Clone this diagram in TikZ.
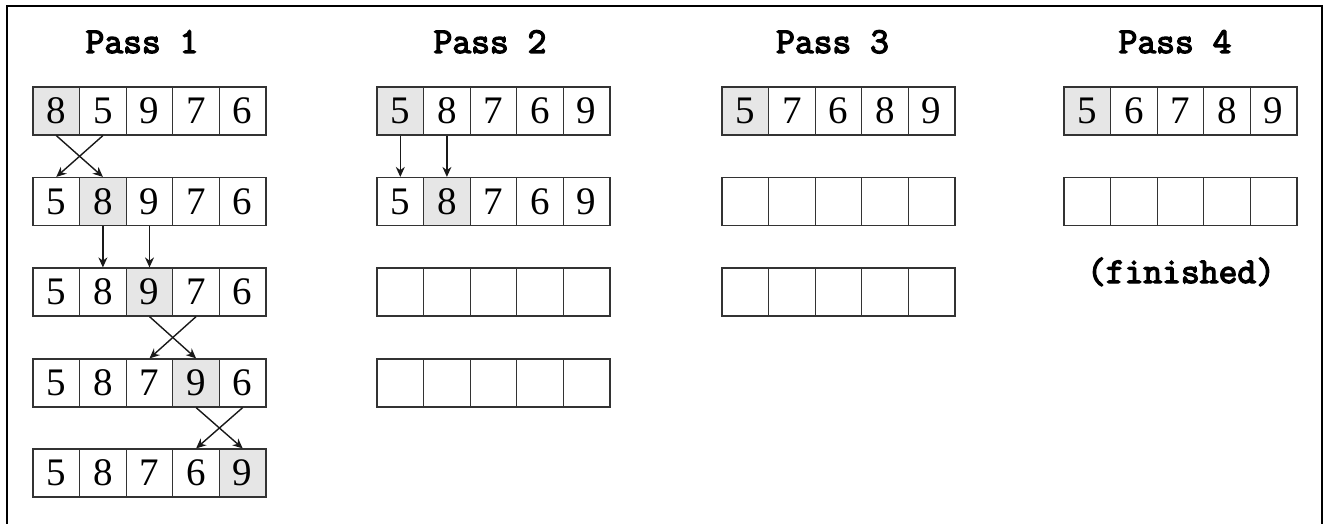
\documentclass[tikz,border=0pt]{standalone}
\usepackage{fontspec}
\setmainfont{Liberation Serif}
\newfontfamily\monofam{Latin Modern Mono}[AutoFakeBold=3.5]
\usetikzlibrary{arrows.meta}
\definecolor{shadegray}{HTML}{E6E6E6}
\definecolor{cellline}{HTML}{333333}
\newcommand{\cellrow}[6]{%
  \foreach \v [count=\c] in {#6} {%
    \pgfmathsetmacro\cx{#3+(\c-0.5)*46.6}%
    \ifnum\c=#5\relax\def\cf{shadegray}\else\def\cf{white}\fi
    \node[cell, fill=\cf] (p#1r#2c\c) at (\cx,#4+24) {\v};
  }%
}
\newcommand{\blankrow}[4]{%
  \foreach \c in {1,...,5} {%
    \pgfmathsetmacro\cx{#3+(\c-0.5)*46.6}%
    \node[cell, fill=white] (p#1r#2c\c) at (\cx,#4+24) {};
  }%
}
\begin{document}
\begin{tikzpicture}[x=1pt,y=-1pt,
  cell/.style={draw=cellline, line width=1.2pt, minimum width=46.6pt, minimum height=48pt,
    inner sep=0pt, font=\fontsize{39}{39}\selectfont},
  title/.style={font=\monofam\bfseries\fontsize{36.5}{36.5}\selectfont, inner sep=0pt, anchor=base},
  arr/.style={line width=1.4pt, draw=black!90, -{Stealth[length=10pt,width=9pt]}}]
\useasboundingbox (0,0) rectangle (1325,524);
\draw[line width=2.6pt] (7,526) -- (7,6) -- (1322,6) -- (1322,526);
% titles
\node[title] (t1) at (142,53) {Pass 1};
\node[title] (t2) at (490,53) {Pass 2};
\node[title] (t3) at (832.5,53) {Pass 3};
\node[title] (t4) at (1175,53) {Pass 4};
% pass 1
\cellrow{1}{1}{33}{87}{1}{8,5,9,7,6}
\cellrow{1}{2}{33}{177.5}{2}{5,8,9,7,6}
\cellrow{1}{3}{33}{268}{3}{5,8,9,7,6}
\cellrow{1}{4}{33}{359}{4}{5,8,7,9,6}
\cellrow{1}{5}{33}{449}{5}{5,8,7,6,9}
% pass 2
\cellrow{2}{1}{377}{87}{1}{5,8,7,6,9}
\cellrow{2}{2}{377}{177.5}{2}{5,8,7,6,9}
\blankrow{2}{3}{377}{268}
\blankrow{2}{4}{377}{359}
% pass 3
\cellrow{3}{1}{722}{87}{1}{5,7,6,8,9}
\blankrow{3}{2}{722}{177.5}
\blankrow{3}{3}{722}{268}
% pass 4
\cellrow{4}{1}{1064}{87}{1}{5,6,7,8,9}
\blankrow{4}{2}{1064}{177.5}
\node[title] (fin) at (1181,283) {(finished)};
% arrows pass 1
\draw[arr] (p1r1c1.south) -- (p1r2c2.north);
\draw[arr] (p1r1c2.south) -- (p1r2c1.north);
\draw[arr] (p1r2c2.south) -- (p1r3c2.north);
\draw[arr] (p1r2c3.south) -- (p1r3c3.north);
\draw[arr] (p1r3c3.south) -- (p1r4c4.north);
\draw[arr] (p1r3c4.south) -- (p1r4c3.north);
\draw[arr] (p1r4c4.south) -- (p1r5c5.north);
\draw[arr] (p1r4c5.south) -- (p1r5c4.north);
% arrows pass 2
\draw[arr] (p2r1c1.south) -- (p2r2c1.north);
\draw[arr] (p2r1c2.south) -- (p2r2c2.north);
\end{tikzpicture}
\end{document}
